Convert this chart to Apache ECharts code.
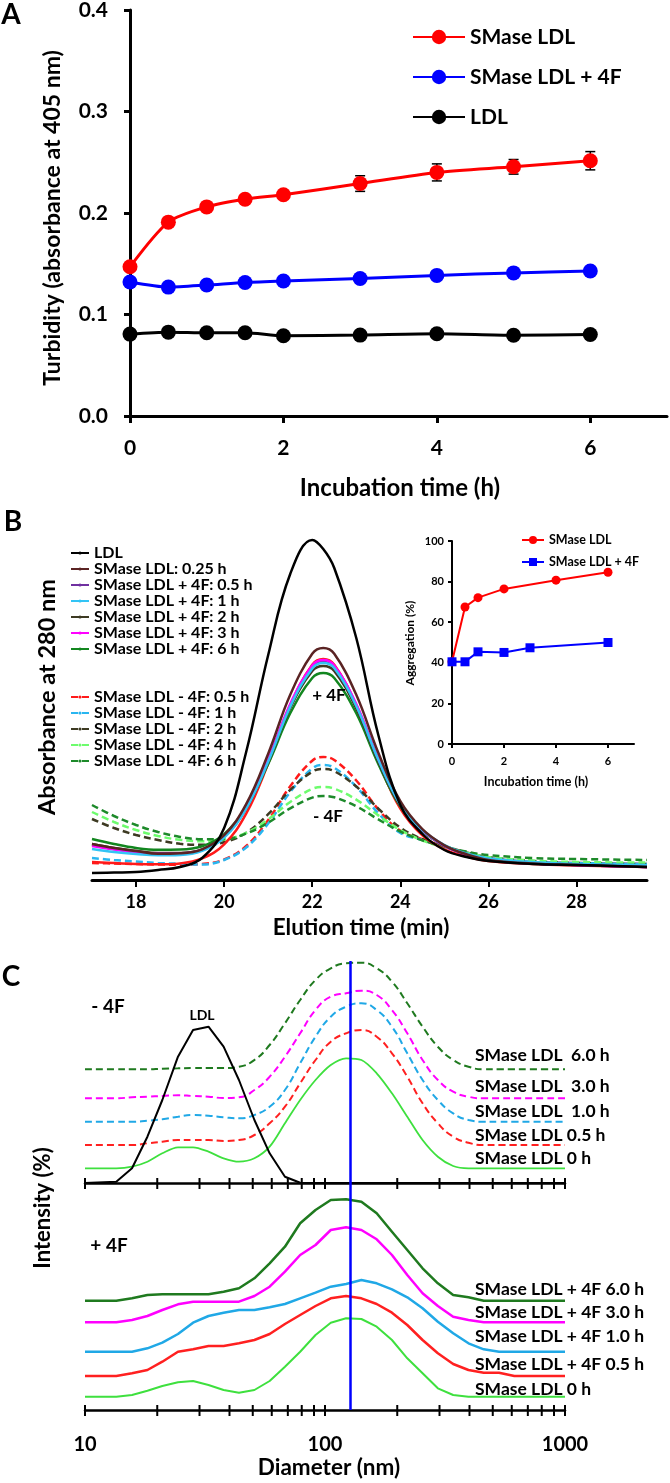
<!DOCTYPE html>
<html>
<head>
<meta charset="utf-8">
<script src="https://cdn.jsdelivr.net/npm/echarts@6/dist/echarts.min.js"></script>
<style>html,body{margin:0;padding:0;background:#fff}#c{width:670px;height:1483px}</style>
</head>
<body>
<div id="c"></div>
<script>
// ---------- Panel A: turbidity ----------
const aTime = [0, 0.5, 1, 1.5, 2, 3, 4, 5, 6];
const aSmase = [0.147, 0.191, 0.206, 0.2135, 0.218, 0.229, 0.240, 0.2455, 0.2515];
const aSmaseErr = [0.002, 0.003, 0.003, 0.003, 0.003, 0.0077, 0.0084, 0.0072, 0.009];
const aSmase4F = [0.132, 0.127, 0.129, 0.1315, 0.133, 0.1355, 0.1385, 0.141, 0.1428];
const aLDL = [0.0807, 0.0826, 0.082, 0.082, 0.079, 0.0797, 0.081, 0.0795, 0.0803];
const aXTicks = [0, 2, 4, 6];

// ---------- Panel B: chromatograms ----------
const bTime = [17, 17.5, 18, 18.5, 19, 19.5, 20, 20.5, 21, 21.5, 22, 22.25, 22.5, 23, 23.5, 24, 24.5, 25, 25.5, 26, 27, 28, 29.6];
const bLDL      = [7, 7.5, 8, 10, 13, 22, 52, 128, 225, 306, 340, 331, 312, 242, 145, 75, 46, 30, 23, 19, 16, 15, 13];
const bSm025    = [36, 32, 29, 26.2, 26.7, 30.7, 44.8, 75.8, 126.3, 185.2, 226.2, 232, 226.2, 185.2, 127.3, 78.8, 50.8, 34.7, 25.7, 20, 16.5, 15, 13];
const bRedSolid = [18, 17, 16, 15.7, 16.6, 21.6, 35.6, 66.3, 116.4, 174.7, 215.2, 221, 215.2, 174.7, 118.4, 71.3, 44.6, 30.6, 23.6, 19, 16, 14.5, 13];
const bP05      = [35, 31, 28, 26.2, 26.6, 30.2, 43.4, 72.3, 119.4, 174.4, 212.6, 218, 212.6, 174.4, 120.4, 75.3, 49.4, 34.2, 25.6, 20, 16.5, 15, 13];
const bP1       = [31, 28, 26, 24.7, 25, 29.2, 42.4, 71.3, 118.4, 173.4, 211.6, 217, 212, 174, 120.5, 75.5, 50, 35, 26.5, 21.5, 18, 16, 15];
const bP2       = [36, 32, 29, 27, 27, 30.5, 43.5, 71.5, 118, 172, 209, 214, 209, 171.5, 118.5, 74.5, 49.5, 34.5, 26, 20.5, 17, 15.5, 14];
const bP3       = [34, 30.5, 27.5, 26, 26.3, 30, 43.5, 72.8, 120.5, 176, 214.5, 220, 214.5, 176, 121.5, 76, 49.8, 34.3, 25.6, 20, 16.5, 15, 13];
const bP6       = [41, 36, 32, 30.2, 30.4, 33.7, 45.9, 72.6, 116.1, 166.7, 202, 207, 202, 166.7, 116.1, 73.6, 48.9, 34.7, 26.4, 21, 17, 15.5, 14];
const bM05      = [17, 16.5, 16, 15.5, 15.3, 16.1, 20.5, 34, 59.9, 93.8, 119.3, 123, 120, 99.5, 70.6, 49.1, 40.9, 33.5, 26.9, 22, 18, 17, 16];
const bM1       = [22, 20, 18.5, 17, 16.3, 15.5, 20, 32.5, 56.5, 88, 111.6, 115, 112.2, 93.3, 66.7, 47.1, 40.1, 33.2, 26.8, 22, 18, 17, 16];
const bM2       = [61, 52, 45, 40, 36.2, 35.2, 37.7, 47.3, 65.8, 90.1, 108.3, 111, 108.8, 93.5, 71.4, 52.4, 40.8, 33.5, 27.6, 23, 19, 17, 16];
const bM4       = [68, 58, 50, 44, 40.2, 38.8, 40.4, 47.2, 60.6, 78, 91.1, 93, 91.4, 80.4, 64.6, 49.9, 39.6, 32.8, 27.4, 23, 19.5, 18, 17.5];
const bM6       = [75, 64, 55, 48, 43.1, 40.7, 40.8, 46.4, 57.4, 71.7, 82.4, 84, 82.7, 73.7, 60.6, 48.5, 39.6, 33.5, 28.4, 25, 22, 21, 20];
const bXTicks = [18, 20, 22, 24, 26, 28];

// inset (aggregation)
const insTimeSm = [0, 0.5, 1, 2, 4, 6];
const insSm = [40.5, 67.5, 72.1, 76.4, 80.7, 84.6];
const insTime4F = [0, 0.5, 1, 2, 3, 6];
const ins4F = [40.5, 40.5, 45.4, 45.1, 47.4, 50];
const insXTicks = [0, 2, 4, 6];

// ---------- Panel C: DLS size distributions ----------
const cDiam = [10, 13.5, 15.7, 18.2, 21, 24.4, 28.2, 32.7, 37.8, 43.8, 50.8, 58.8, 68.1, 78.8, 91.3, 105.7, 122.4, 141.8, 164.2, 190.1, 220.2, 255, 295.3, 342, 396.1, 458.7, 531.2, 615.1, 712.4, 1000];
// -4F (top)
const cTopLDL = [0, 1.3, 14.7, 46.3, 83, 126.3, 153, 156.3, 136.3, 103, 63, 29.7, 6.3, 0.3, 0, 0, 0, 0, 0, 0, 0, 0, 0, 0, 0, 0, 0, 0, 0, 0];
const cTop0   = [14.7, 14.7, 16.3, 21.3, 29.7, 35.7, 35.7, 31.3, 24.7, 21.3, 24.7, 36.3, 59.7, 83, 103, 118, 124.7, 123, 109.7, 89.7, 66.3, 43, 26.3, 17, 14.7, 14.7, 14.7, 14.7, 14.7, 14.7];
const cTop05  = [38, 38, 38, 39.7, 41.3, 43, 43, 43, 42, 43, 48, 59.7, 76.3, 99.7, 123, 141.3, 149.7, 153, 146.3, 129.7, 106.3, 79.7, 59.7, 46.3, 40.3, 38, 38, 38, 38, 38];
const cTop1   = [61.3, 61.3, 61.3, 62.3, 63.7, 66.3, 68, 67.3, 65.7, 64.7, 68, 76.3, 93, 119.7, 146.3, 166.3, 176.3, 179.7, 173, 156.3, 129.7, 103, 83, 69.7, 63, 61.3, 61.3, 61.3, 61.3, 61.3];
const cTop3   = [84.7, 84.7, 85.7, 86.3, 87, 87.7, 87, 86.3, 85, 85.7, 93, 106.3, 126.3, 149.7, 173, 186.3, 189.7, 192.3, 188, 173, 149.7, 123, 103, 91.3, 86.3, 84.7, 84.7, 84.7, 84.7, 84.7];
const cTop6   = [113.7, 113.7, 113.7, 113.7, 114.3, 114.7, 115, 115, 115, 116.3, 123, 138, 159.7, 183, 203, 214.7, 219.7, 220.3, 214.7, 201.3, 179.7, 156.3, 136.3, 123, 116.3, 113.7, 113.7, 113.7, 113.7, 113.7];
// +4F (bottom)
const cBot0   = [13.3, 13.3, 15, 19.3, 24, 27.7, 29, 25, 20, 17.3, 20, 29, 43.3, 58.3, 75, 87.3, 91.7, 91, 83.3, 70, 51.7, 36.7, 21.7, 15, 13.3, 13.3, 13.3, 13.3, 13.3, 13.3];
const cBot05  = [34, 34, 36.7, 40, 48.3, 58.3, 60.7, 64, 64, 66.7, 70, 76, 86, 95, 104, 111.7, 114, 111.7, 106, 97.3, 85, 70, 56.7, 46, 40, 37.3, 37.3, 34, 34, 34];
const cBot1   = [58.3, 58.3, 58.3, 61.7, 67.3, 76, 87.3, 94, 97.3, 100, 100, 102.7, 106, 111.7, 117.3, 123.3, 126, 130, 126.7, 120.7, 112.7, 101.7, 88.3, 76.7, 66.7, 60.7, 58.3, 58.3, 58.3, 58.3];
const cBot3   = [87.7, 87.7, 90, 94, 100, 105.7, 108.3, 108.3, 108.3, 108.3, 114, 123.3, 138.3, 155, 165, 180, 182.7, 180, 170.7, 155, 135, 116.7, 104, 93.3, 90, 87.7, 87.7, 87.7, 87.7, 87.7];
const cBot6   = [109.3, 109.3, 111.7, 115, 115.7, 115.7, 115.7, 115.7, 118.3, 121.7, 131.7, 146.7, 163.3, 186.7, 200, 210, 210.7, 208.3, 196.7, 178.3, 160, 141.7, 126.7, 115, 112.7, 109.3, 109.3, 109.3, 109.3, 109.3];
const cRefDiam = 127;
const cTickVals = [10, 20, 30, 40, 50, 60, 70, 80, 90, 100, 200, 300, 400, 500, 600, 700, 800, 900, 1000];
const cLabelVals = [10, 100, 1000];
const cTopLabels = ['SMase LDL  6.0 h', 'SMase LDL  3.0 h', 'SMase LDL  1.0 h', 'SMase LDL 0.5 h', 'SMase LDL 0 h'];
const cBotLabels = ['SMase LDL + 4F 6.0 h', 'SMase LDL + 4F 3.0 h', 'SMase LDL + 4F 1.0 h', 'SMase LDL + 4F 0.5 h', 'SMase LDL 0 h'];

// ---------- helpers ----------
const FONT = 'Lato, "Noto Sans", sans-serif';
const zip = (xs, ys) => xs.map((x, i) => [x, ys[i]]);
const strip = n => n.split('|').pop();

function lineS(name, xi, xs, ys, color, opt) {
  opt = opt || {};
  return Object.assign({
    type: 'line', name: name, xAxisIndex: xi, yAxisIndex: xi,
    data: zip(xs, ys), symbol: 'none', smooth: opt.smooth === undefined ? 0.4 : opt.smooth,
    lineStyle: { color: color, width: opt.width || 2.5, type: opt.dash ? [7, 4] : 'solid' },
    itemStyle: { color: color }, silent: true, animation: false, z: opt.z || 2
  }, opt.extra || {});
}

const series = [];
// A
series.push({
  type: 'custom', name: 'A|err', xAxisIndex: 0, yAxisIndex: 0, z: 1, silent: true,
  data: aTime.map((t, i) => [t, aSmase[i], aSmaseErr[i]]),
  renderItem: (params, api) => {
    const x = api.value(0), y = api.value(1), e = api.value(2);
    const t = api.coord([x, y + e]), b = api.coord([x, y - e]);
    const st = { stroke: '#000', lineWidth: 1.5 };
    return { type: 'group', children: [
      { type: 'line', shape: { x1: t[0], y1: t[1], x2: b[0], y2: b[1] }, style: st },
      { type: 'line', shape: { x1: t[0] - 5, y1: t[1], x2: t[0] + 5, y2: t[1] }, style: st },
      { type: 'line', shape: { x1: b[0] - 5, y1: b[1], x2: b[0] + 5, y2: b[1] }, style: st }
    ]};
  }
});
const aS = (name, ys, color) => ({
  type: 'line', name: name, xAxisIndex: 0, yAxisIndex: 0, data: zip(aTime, ys),
  symbol: 'circle', symbolSize: 15, smooth: 0.25, lineStyle: { color: color, width: 3 },
  itemStyle: { color: color }, z: 3, animation: false
});
series.push(aS('A|SMase LDL', aSmase, '#ff0000'));
series.push(aS('A|SMase LDL + 4F', aSmase4F, '#0000ff'));
series.push(aS('A|LDL', aLDL, '#000000'));

// B (dashed first)
series.push(lineS('SMase LDL - 4F: 0.5 h', 1, bTime, bM05, '#ff1a1a', { dash: true }));
series.push(lineS('SMase LDL - 4F: 1 h', 1, bTime, bM1, '#29b6f0', { dash: true }));
series.push(lineS('SMase LDL - 4F: 2 h', 1, bTime, bM2, '#3d3a22', { dash: true }));
series.push(lineS('SMase LDL - 4F: 4 h', 1, bTime, bM4, '#6dfc6d', { dash: true }));
series.push(lineS('SMase LDL - 4F: 6 h', 1, bTime, bM6, '#1d8a2a', { dash: true }));
series.push(lineS('B|red', 1, bTime, bRedSolid, '#ff1a1a', {}));
series.push(lineS('SMase LDL + 4F: 6 h', 1, bTime, bP6, '#12861f', {}));
series.push(lineS('SMase LDL + 4F: 2 h', 1, bTime, bP2, '#3d3a22', {}));
series.push(lineS('SMase LDL + 4F: 0.5 h', 1, bTime, bP05, '#7030a0', {}));
series.push(lineS('SMase LDL + 4F: 3 h', 1, bTime, bP3, '#ff00ff', {}));
series.push(lineS('SMase LDL + 4F: 1 h', 1, bTime, bP1, '#33c4f5', {}));
series.push(lineS('SMase LDL: 0.25 h', 1, bTime, bSm025, '#5a2323', {}));
series.push(lineS('LDL', 1, bTime, bLDL, '#000000', {}));

// inset
series.push({ type: 'line', name: 'I|SMase LDL', xAxisIndex: 2, yAxisIndex: 2, data: zip(insTimeSm, insSm),
  symbol: 'circle', symbolSize: 9, lineStyle: { color: '#ff0000', width: 2 }, itemStyle: { color: '#ff0000' }, z: 4, animation: false });
series.push({ type: 'line', name: 'I|SMase LDL + 4F', xAxisIndex: 2, yAxisIndex: 2, data: zip(insTime4F, ins4F),
  symbol: 'rect', symbolSize: 9, lineStyle: { color: '#0000ff', width: 2 }, itemStyle: { color: '#0000ff' }, z: 5, animation: false });

// C top
const cTopOpt = { dash: true, width: 2, smooth: 0.5 };
series.push(lineS('C|top6', 3, cDiam, cTop6, '#1f7a1f', cTopOpt));
series.push(lineS('C|top3', 3, cDiam, cTop3, '#ff00ff', cTopOpt));
series.push(lineS('C|top1', 3, cDiam, cTop1, '#20a8e6', cTopOpt));
series.push(lineS('C|top05', 3, cDiam, cTop05, '#ff2020', cTopOpt));
series.push(lineS('C|top0', 3, cDiam, cTop0, '#3ee03e', { width: 1.8, smooth: 0.3 }));
series.push(lineS('C|topLDL', 3, cDiam, cTopLDL, '#000000', { width: 2, smooth: 0,
  extra: { markLine: { silent: true, symbol: 'none', label: { show: false }, lineStyle: { color: '#0000ff', width: 2.5, type: 'solid' }, data: [{ xAxis: cRefDiam }] } } }));
// C bottom
const cBotOpt = { width: 2.5, smooth: 0 };
series.push(lineS('C|bot6', 4, cDiam, cBot6, '#1f7a1f', cBotOpt));
series.push(lineS('C|bot3', 4, cDiam, cBot3, '#ff00ff', cBotOpt));
series.push(lineS('C|bot1', 4, cDiam, cBot1, '#20a8e6', cBotOpt));
series.push(lineS('C|bot05', 4, cDiam, cBot05, '#ff2020', cBotOpt));
series.push(lineS('C|bot0', 4, cDiam, cBot0, '#3ee03e', { width: 2, smooth: 0,
  extra: { markLine: { silent: true, symbol: 'none', label: { show: false }, lineStyle: { color: '#0000ff', width: 2.5, type: 'solid' }, data: [{ xAxis: cRefDiam }] } } }));
// C cross ticks on both log axes
[3, 4].forEach(ai => series.push({
  type: 'custom', name: 'C|ticks' + ai, xAxisIndex: ai, yAxisIndex: ai, clip: false, silent: true, z: 6,
  data: cTickVals.map(v => [v, 0]),
  renderItem: (params, api) => {
    const p = api.coord([api.value(0), 0]);
    return { type: 'line', shape: { x1: p[0], y1: p[1] - 5, x2: p[0], y2: p[1] + 6 }, style: { stroke: '#000', lineWidth: 2 } };
  }
}));

const blackAxis = w => ({ show: true, lineStyle: { color: '#000', width: w } });
const hidden = { show: false };

const graphics = [];
const txt = (text, x, y, size, opt) => {
  opt = opt || {};
  graphics.push({ type: 'text', x: x, y: y, rotation: opt.rot || 0, silent: true, z: 50,
    style: { text: text, font: (opt.weight || 'bold') + ' ' + size + 'px ' + FONT, fill: '#000',
      align: opt.align || 'center', verticalAlign: 'middle' } });
};
txt('A', 11, 15, 28);
txt('B', 13, 522, 28);
txt('C', 11, 977, 28);
txt('Turbidity (absorbance at 405 nm)', 53, 218, 23, { rot: Math.PI / 2 });
txt('Incubation time (h)', 400, 488, 24);
txt('Absorbance at 280 nm', 47, 697, 23.5, { rot: Math.PI / 2 });
txt('Elution time (min)', 361, 928, 22.5);
txt('+ 4F', 329, 696, 17);
txt('- 4F', 328, 817, 17);
txt('Aggregation (%)', 410, 643, 12, { rot: Math.PI / 2 });
txt('Incubation time (h)', 536, 782, 12.5);
txt('Intensity (%)', 43, 1208, 22, { rot: Math.PI / 2 });
txt('Diameter (nm)', 329, 1468, 22.5);
txt('- 4F', 108, 1007, 19);
txt('LDL', 202, 1015, 14);
txt('+ 4F', 109, 1246, 19);
const cTopY = [1055, 1086, 1111, 1135, 1158];
const cBotY = [1289, 1312, 1336, 1364, 1389];
cTopLabels.forEach((t, i) => txt(t, 475, cTopY[i], 17.5, { align: 'left' }));
cBotLabels.forEach((t, i) => txt(t, 475, cBotY[i], 17.5, { align: 'left' }));

const legendBase = { orient: 'vertical', padding: 0, selectedMode: false, formatter: strip };

const option = {
  animation: false,
  backgroundColor: '#fff',
  textStyle: { fontFamily: FONT },
  grid: [
    { left: 130, right: 3, top: 10, bottom: 1483 - 416, outerBoundsMode: 'none' },
    { left: 92, right: 23, top: 530, bottom: 1483 - 880, outerBoundsMode: 'none' },
    { left: 452, right: 36, top: 541, bottom: 1483 - 744, outerBoundsMode: 'none' },
    { left: 85, right: 105, top: 961, bottom: 1483 - 1183, outerBoundsMode: 'none' },
    { left: 85, right: 105, top: 1183, bottom: 1483 - 1410, outerBoundsMode: 'none' }
  ],
  xAxis: [
    { gridIndex: 0, type: 'value', min: 0, max: 7, splitLine: hidden, axisLine: blackAxis(3),
      axisTick: { show: true, customValues: aXTicks, length: 7, lineStyle: { color: '#000', width: 3 } },
      axisLabel: { customValues: aXTicks, margin: 22, color: '#000', fontSize: 21, fontWeight: 'bold', fontFamily: FONT } },
    { gridIndex: 1, type: 'value', min: 17, max: 29.6, splitLine: hidden, axisLine: blackAxis(3),
      axisTick: { show: true, customValues: bXTicks, length: 7, lineStyle: { color: '#000', width: 2 } },
      axisLabel: { customValues: bXTicks, margin: 13, color: '#000', fontSize: 18, fontWeight: 'bold', fontFamily: FONT } },
    { gridIndex: 2, type: 'value', min: 0, max: 7, splitLine: hidden, axisLine: blackAxis(2),
      axisTick: { show: true, customValues: insXTicks, length: 4, lineStyle: { color: '#000', width: 2 } },
      axisLabel: { customValues: insXTicks, margin: 12, color: '#000', fontSize: 11, fontWeight: 'bold', fontFamily: FONT } },
    { gridIndex: 3, type: 'log', logBase: 10, min: 10, max: 1000, splitLine: hidden, axisLine: blackAxis(2.5),
      axisTick: hidden, axisLabel: hidden, minorTick: hidden },
    { gridIndex: 4, type: 'log', logBase: 10, min: 10, max: 1000, splitLine: hidden, axisLine: blackAxis(2.5),
      axisTick: hidden, minorTick: hidden,
      axisLabel: { customValues: cLabelVals, margin: 25, color: '#000', fontSize: 20, fontWeight: 'bold', fontFamily: FONT,
        formatter: v => String(Math.round(v)) } }
  ],
  yAxis: [
    { gridIndex: 0, type: 'value', min: 0, max: 0.4, interval: 0.1, splitLine: hidden, axisLine: blackAxis(3),
      axisTick: { show: true, length: 6, lineStyle: { color: '#000', width: 3 } },
      axisLabel: { margin: 22, color: '#000', fontSize: 21, fontWeight: 'bold', fontFamily: FONT, formatter: v => v.toFixed(1) } },
    { gridIndex: 1, type: 'value', min: 0, max: 350, show: false, splitLine: hidden },
    { gridIndex: 2, type: 'value', min: 0, max: 100, interval: 20, splitLine: hidden, axisLine: blackAxis(2),
      axisTick: { show: true, length: 4, lineStyle: { color: '#000', width: 2 } },
      axisLabel: { margin: 8, color: '#000', fontSize: 11, fontWeight: 'bold', fontFamily: FONT } },
    { gridIndex: 3, type: 'value', min: 0, max: 222, show: false, splitLine: hidden },
    { gridIndex: 4, type: 'value', min: 0, max: 227, show: false, splitLine: hidden }
  ],
  legend: [
    Object.assign({}, legendBase, { left: 412, top: 26, itemWidth: 52, itemHeight: 18, itemGap: 18,
      data: ['A|SMase LDL', 'A|SMase LDL + 4F', 'A|LDL'],
      textStyle: { fontSize: 21, fontWeight: 'bold', color: '#000', fontFamily: FONT, lineHeight: 22 } }),
    Object.assign({}, legendBase, { left: 70, top: 545, itemWidth: 18, itemHeight: 4, itemGap: 0,
      data: ['LDL', 'SMase LDL: 0.25 h', 'SMase LDL + 4F: 0.5 h', 'SMase LDL + 4F: 1 h', 'SMase LDL + 4F: 2 h', 'SMase LDL + 4F: 3 h', 'SMase LDL + 4F: 6 h'],
      textStyle: { fontSize: 16, fontWeight: 'bold', color: '#000', fontFamily: FONT, lineHeight: 16 } }),
    Object.assign({}, legendBase, { left: 70, top: 689, itemWidth: 18, itemHeight: 4, itemGap: 0,
      data: ['SMase LDL - 4F: 0.5 h', 'SMase LDL - 4F: 1 h', 'SMase LDL - 4F: 2 h', 'SMase LDL - 4F: 4 h', 'SMase LDL - 4F: 6 h'],
      textStyle: { fontSize: 16, fontWeight: 'bold', color: '#000', fontFamily: FONT, lineHeight: 16 } }),
    Object.assign({}, legendBase, { left: 521, top: 533, itemWidth: 22, itemHeight: 10, itemGap: 8,
      data: ['I|SMase LDL', 'I|SMase LDL + 4F'],
      textStyle: { fontSize: 12.5, fontWeight: 'bold', color: '#000', fontFamily: FONT, lineHeight: 14 } })
  ],
  graphic: graphics,
  series: series
};

const chart = echarts.init(document.getElementById('c'), null, { renderer: 'canvas', width: 670, height: 1483 });
chart.setOption(option);
</script>
</body>
</html>
